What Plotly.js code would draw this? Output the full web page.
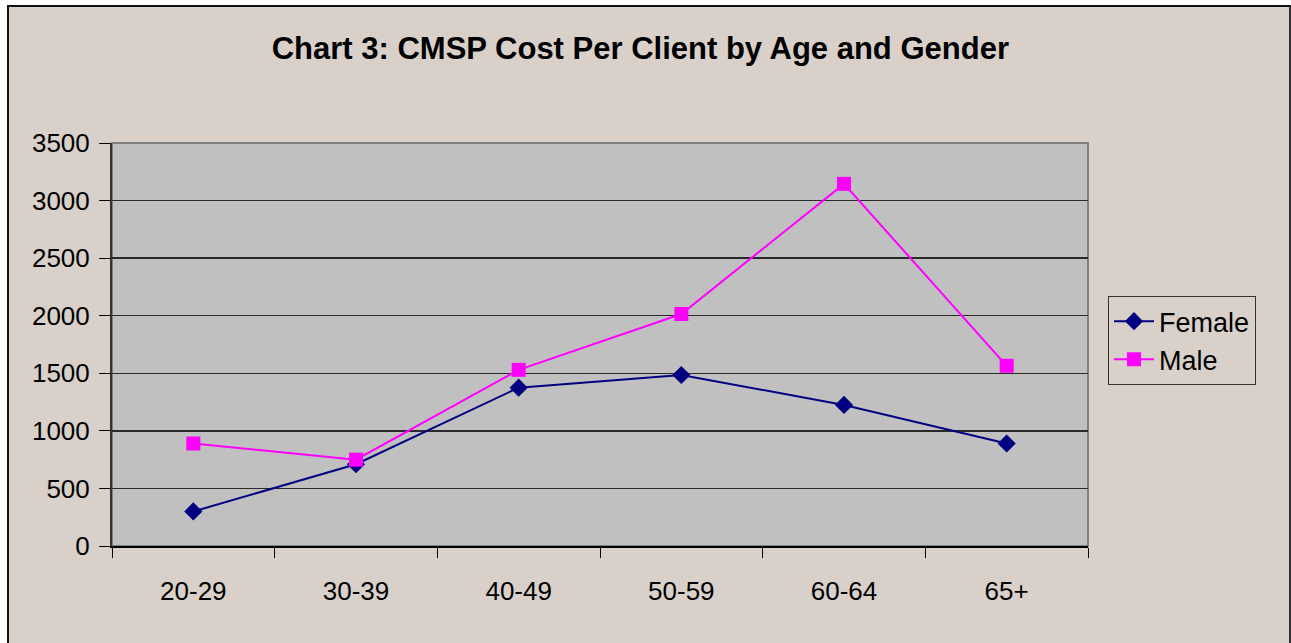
<!DOCTYPE html>
<html>
<head>
<meta charset="utf-8">
<script src="https://cdn.plot.ly/plotly-3.0.1.min.js"></script>
<style>
    html, body { margin: 0; padding: 0; background: #ffffff; }
    #frame {
        position: absolute; left: 7px; top: 5px; width: 1284px; height: 638px;
        box-sizing: border-box; background: #d9d0ca;
        border-left: 2px solid #111; border-top: 2px solid #111; border-right: 2px solid #333;
    }
    #chart { position: absolute; left: 0; top: 0; width: 1291px; height: 643px; }
</style>
</head>
<body>
<div id="frame"></div>
<div id="chart"></div>
<script>
// age groups on the x axis
const ageGroups = ["20-29", "30-39", "40-49", "50-59", "60-64", "65+"];

// cost per client
const femaleCost = [300, 710, 1375, 1485, 1225, 890];
const maleCost = [890, 750, 1530, 2015, 3145, 1565];

const yTicks = [0, 500, 1000, 1500, 2000, 2500, 3000, 3500];

const FONT = '"Liberation Sans Narrow", "Arial Narrow", "Liberation Sans", Arial, sans-serif';

let female = {
    x: ageGroups,
    y: femaleCost,
    name: "Female",
    type: "scatter",
    mode: "lines+markers",
    line: { color: "#000080", width: 2 },
    marker: { symbol: "diamond", size: 14, color: "#000080" }
};

let male = {
    x: ageGroups,
    y: maleCost,
    name: "Male",
    type: "scatter",
    mode: "lines+markers",
    line: { color: "#ff00ff", width: 2 },
    marker: { symbol: "square", size: 14, color: "#ff00ff" }
};

let layout = {
    width: 1291,
    height: 643,
    margin: { l: 112, r: 203, t: 143, b: 97, pad: 0 },
    paper_bgcolor: "rgba(0,0,0,0)",
    plot_bgcolor: "#c0c0c0",
    font: { family: FONT, color: "#000", size: 26 },
    title: {
        text: "<b>Chart 3: CMSP Cost Per Client by Age and Gender</b>",
        font: { family: FONT, size: 31, color: "#000" },
        x: 0.496,
        xanchor: "center",
        y: 0.925,
        yanchor: "middle"
    },
    showlegend: true,
    legend: {
        x: 1.0205,
        xanchor: "left",
        y: 0.62,
        yanchor: "top",
        bgcolor: "rgba(0,0,0,0)",
        bordercolor: "#333",
        borderwidth: 1,
        font: { family: FONT, size: 27 },
        itemwidth: 40,
        tracegroupgap: 0
    },
    xaxis: {
        type: "category",
        tickson: "boundaries",
        ticks: "outside",
        ticklen: 10,
        tickwidth: 1,
        tickcolor: "#000",
        showline: true,
        linecolor: "#000",
        linewidth: 2,
        showgrid: false,
        zeroline: false,
        ticklabelstandoff: 21,
        tickfont: { family: FONT, size: 26 },
        range: [-0.5, 5.5]
    },
    yaxis: {
        range: [0, 3500],
        tickvals: yTicks,
        ticks: "outside",
        ticklen: 11,
        tickwidth: 1,
        tickcolor: "#000",
        showline: true,
        linecolor: "#333",
        linewidth: 2,
        showgrid: true,
        gridcolor: "#2a2a2a",
        gridwidth: 1.5,
        zeroline: false,
        ticklabelstandoff: 4,
        tickfont: { family: FONT, size: 26 }
    },
    shapes: [{
        type: "rect",
        xref: "paper", yref: "paper",
        x0: 0, x1: 1, y0: 0, y1: 1,
        line: { color: "#808080", width: 2 },
        layer: "below"
    }]
};

Plotly.newPlot("chart", [female, male], layout, { displayModeBar: false, staticPlot: true });
</script>
</body>
</html>
